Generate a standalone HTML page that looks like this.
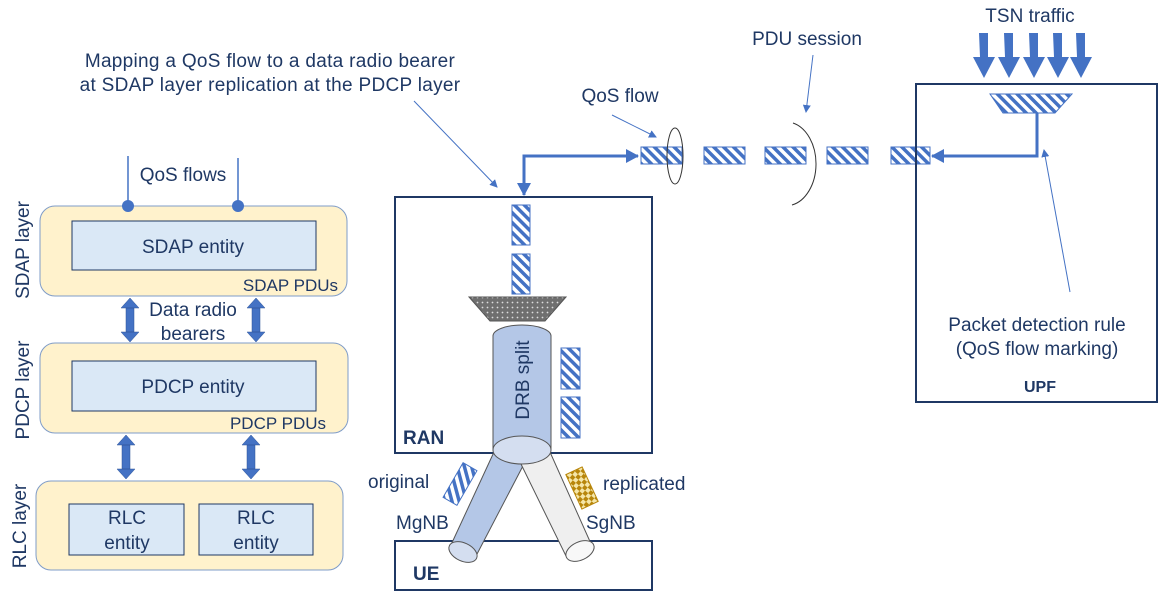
<!DOCTYPE html>
<html><head><style>body{margin:0;background:#fff}svg{display:block}text{font-family:"Liberation Sans",sans-serif;fill:#1f3864}</style></head><body>
<svg width="1158" height="597" viewBox="0 0 1158 597" xmlns="http://www.w3.org/2000/svg">
<defs>
<pattern id="h" width="7" height="7" patternUnits="userSpaceOnUse" patternTransform="rotate(-45)"><rect width="7" height="7" fill="#fff"/><rect width="3.5" height="7" fill="#4472c4"/></pattern>
<pattern id="d" width="5" height="5" patternUnits="userSpaceOnUse"><rect width="5" height="5" fill="#6f6f6f"/><circle cx="2.5" cy="2.5" r="0.9" fill="#ddd"/></pattern>
<pattern id="g" width="8" height="8" patternUnits="userSpaceOnUse" patternTransform="rotate(-25)"><rect width="8" height="8" fill="#f5e6a8"/><rect width="4" height="4" fill="#b8860b"/><rect x="4" y="4" width="4" height="4" fill="#b8860b"/></pattern>
<marker id="a" markerWidth="8" markerHeight="8" refX="7" refY="4" orient="auto" markerUnits="userSpaceOnUse"><path d="M0,0L8,4L0,8z" fill="#4472c4"/></marker>
<marker id="A" markerWidth="14" markerHeight="14" refX="12" refY="7" orient="auto" markerUnits="userSpaceOnUse"><path d="M0,0L13,7L0,14z" fill="#4472c4"/></marker>
<g id="da"><path d="M-4,-12h8v24h-8z M-9,-12L0,-22L9,-12z M-9,12L0,22L9,12z" fill="#4472c4" stroke="#2f5597" stroke-width="0.5"/></g>
</defs>
<!-- left panel -->
<rect x="40" y="206" width="307" height="90" rx="15" fill="#fff2cc" stroke="#7f9cc8"/>
<rect x="72" y="221" width="244" height="49" fill="#dae8f6" stroke="#1f3864"/>
<text x="193" y="253" font-size="19" text-anchor="middle">SDAP entity</text>
<text x="338" y="291" font-size="17" text-anchor="end">SDAP PDUs</text>
<rect x="40" y="343" width="308" height="90" rx="15" fill="#fff2cc" stroke="#7f9cc8"/>
<rect x="72" y="361" width="244" height="50" fill="#dae8f6" stroke="#1f3864"/>
<text x="193" y="393" font-size="19" text-anchor="middle">PDCP entity</text>
<text x="326" y="429" font-size="17" text-anchor="end">PDCP PDUs</text>
<rect x="36" y="481" width="307" height="89" rx="15" fill="#fff2cc" stroke="#7f9cc8"/>
<rect x="69" y="504" width="115" height="51" fill="#dae8f6" stroke="#1f3864"/>
<rect x="199" y="504" width="114" height="51" fill="#dae8f6" stroke="#1f3864"/>
<text x="127" y="524" font-size="19" text-anchor="middle">RLC</text><text x="127" y="549" font-size="19" text-anchor="middle">entity</text>
<text x="256" y="524" font-size="19" text-anchor="middle">RLC</text><text x="256" y="549" font-size="19" text-anchor="middle">entity</text>
<line x1="128" y1="156" x2="128" y2="206" stroke="#4472c4" stroke-width="1.5"/><line x1="238" y1="158" x2="238" y2="206" stroke="#4472c4" stroke-width="1.5"/>
<circle cx="128" cy="206" r="6" fill="#4472c4"/><circle cx="238" cy="206" r="6" fill="#4472c4"/>
<text x="183" y="181" font-size="19" text-anchor="middle">QoS flows</text>
<use href="#da" x="130" y="320"/><use href="#da" x="256" y="320"/>
<use href="#da" x="126" y="457"/><use href="#da" x="251" y="457"/>
<text x="193" y="316" font-size="19" text-anchor="middle">Data radio</text>
<text x="193" y="340" font-size="19" text-anchor="middle">bearers</text>
<text transform="translate(29,250) rotate(-90)" font-size="19" text-anchor="middle">SDAP layer</text>
<text transform="translate(29,390) rotate(-90)" font-size="19" text-anchor="middle">PDCP layer</text>
<text transform="translate(26,526) rotate(-90)" font-size="19" text-anchor="middle">RLC layer</text>
<!-- top texts -->
<text x="270" y="67" font-size="19" text-anchor="middle" letter-spacing="0.3">Mapping  a QoS flow to a data radio bearer</text>
<text x="270" y="91" font-size="19" text-anchor="middle" letter-spacing="0.3">at SDAP layer replication at the PDCP layer</text>
<line x1="414" y1="101" x2="497" y2="187" stroke="#4472c4" marker-end="url(#a)"/>
<text x="620" y="102" font-size="19" text-anchor="middle">QoS flow</text>
<line x1="612" y1="115" x2="656" y2="137" stroke="#4472c4" marker-end="url(#a)"/>
<text x="807" y="45" font-size="19" text-anchor="middle">PDU session</text>
<line x1="813" y1="55" x2="806" y2="112" stroke="#4472c4" marker-end="url(#a)"/>
<text x="1030" y="22" font-size="19" text-anchor="middle">TSN traffic</text>
<g fill="#4472c4"><path d="M979,33h9v24h7l-11,21l-11,-21h7z"/><path d="M1004,33h9v24h7l-11,21l-11,-21h7z"/><path d="M1029,33h9v24h7l-11,21l-11,-21h7z"/><path d="M1053,33h9v24h7l-11,21l-11,-21h7z"/><path d="M1076,33h9v24h7l-11,21l-11,-21h7z"/></g>
<!-- RAN -->
<rect x="395" y="197" width="257" height="256" fill="none" stroke="#1f3864" stroke-width="2"/>
<text x="403" y="444" font-size="19" font-weight="bold">RAN</text>
<rect x="395" y="541" width="257" height="49" fill="none" stroke="#1f3864" stroke-width="2"/>
<text x="413" y="580" font-size="19" font-weight="bold">UE</text>
<rect x="512" y="205" width="18" height="40" fill="url(#h)" stroke="#4472c4"/>
<rect x="512" y="254" width="18" height="40" fill="url(#h)" stroke="#4472c4"/>
<path d="M469,297H566L545,321H490z" fill="url(#d)" stroke="#555"/>
<path d="M493,336a29,11 0 0 1 58,0V450H493z" fill="#b4c7e7" stroke="#555"/>
<!-- legs -->
<path d="M494,452L450,547L476,556L525,462z" fill="#b4c7e7" stroke="#555"/>
<ellipse cx="463" cy="552" rx="15" ry="9" transform="rotate(25 463 552)" fill="#d4def0" stroke="#555"/>
<path d="M520,462L566,556L592,546L550,452z" fill="#efefef" stroke="#555"/>
<ellipse cx="580" cy="551" rx="15" ry="9" transform="rotate(-25 580 551)" fill="#f8f8f8" stroke="#555"/>
<ellipse cx="522" cy="450" rx="29" ry="14" fill="#d4def0" stroke="#555"/>
<text transform="translate(529,380) rotate(-90)" font-size="19" text-anchor="middle">DRB split</text>
<rect x="561" y="348" width="19" height="41" fill="url(#h)" stroke="#4472c4"/>
<rect x="561" y="397" width="19" height="41" fill="url(#h)" stroke="#4472c4"/>
<rect x="-8" y="-20" width="16" height="40" transform="translate(460,484) rotate(30)" fill="url(#h)" stroke="#4472c4"/>
<rect x="-9" y="-19" width="18" height="38" transform="translate(582,488) rotate(-25)" fill="url(#g)" stroke="#b8860b"/>
<text x="368" y="488" font-size="19">original</text>
<text x="603" y="490" font-size="19">replicated</text>
<text x="396" y="529" font-size="19">MgNB</text>
<text x="586" y="529" font-size="19">SgNB</text>
<!-- flow line -->
<path d="M524,194V156H638" fill="none" stroke="#4472c4" stroke-width="3" marker-end="url(#A)"/>
<path d="M524,160V195" fill="none" stroke="#4472c4" stroke-width="3" marker-end="url(#A)"/>
<g fill="url(#h)" stroke="#4472c4"><rect x="641" y="147" width="41" height="17"/><rect x="704" y="147" width="41" height="17"/><rect x="765" y="147" width="41" height="17"/><rect x="827" y="147" width="41" height="17"/><rect x="891" y="147" width="39" height="17"/></g>
<ellipse cx="675" cy="156" rx="8" ry="28" fill="none" stroke="#333"/>
<path d="M779,123A30,42 0 0 1 778,205" fill="none" stroke="#333" transform="translate(14,0)"/>
<!-- UPF -->
<rect x="916" y="84" width="241" height="318" fill="none" stroke="#1f3864" stroke-width="2"/>
<path d="M990,94H1072L1055,113H1003z" fill="url(#h)" stroke="#4472c4"/>
<path d="M1037,113V156H932" fill="none" stroke="#4472c4" stroke-width="3" marker-end="url(#A)"/>
<line x1="1070" y1="292" x2="1044" y2="150" stroke="#4472c4" marker-end="url(#a)"/>
<text x="1037" y="331" font-size="19" text-anchor="middle">Packet detection rule</text>
<text x="1037" y="355" font-size="19" text-anchor="middle">(QoS flow marking)</text>
<text x="1040" y="392" font-size="16" font-weight="bold" text-anchor="middle">UPF</text>
</svg>
</body></html>
